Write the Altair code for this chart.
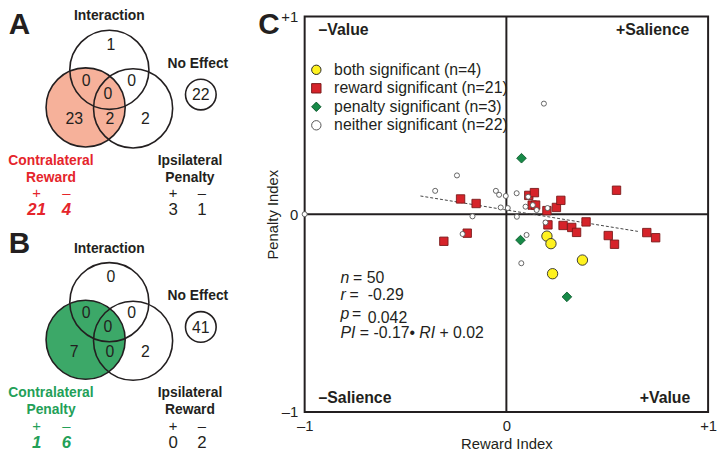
import altair as alt
import pandas as pd

# ------------------------------------------------------------------ data
# Venn regions: interaction only, contra∩interaction, interaction∩ipsi,
# all three, contra only, contra∩ipsi, ipsi only
venn_a_counts = [1, 0, 0, 0, 23, 2, 2]
venn_a_no_effect = [22]
venn_a_contra_label = ["Contralateral", "Reward"]
venn_a_ipsi_label = ["Ipsilateral", "Penalty"]
venn_a_contra_signs = [21, 4]
venn_a_ipsi_signs = [3, 1]

venn_b_counts = [0, 0, 0, 0, 7, 0, 2]
venn_b_no_effect = [41]
venn_b_contra_label = ["Contralateral", "Penalty"]
venn_b_ipsi_label = ["Ipsilateral", "Reward"]
venn_b_contra_signs = [1, 6]
venn_b_ipsi_signs = [0, 2]

categories = ["both significant (n=4)", "reward significant (n=21)",
              "penalty significant (n=3)", "neither significant (n=22)"]

both_ri = [0.201, 0.221, 0.377, 0.229]
both_pi = [-0.111, -0.149, -0.232, -0.301]

reward_ri = [-0.227, -0.150, -0.310, -0.194, 0.111, 0.139, 0.128, 0.145, 0.201, 0.248, 0.270,
             0.206, 0.281, 0.324, 0.348, 0.395, 0.505, 0.536, 0.546, 0.696, 0.740]
reward_pi = [0.077, 0.054, -0.137, -0.096, 0.095, 0.109, 0.046, 0.046, 0.018, 0.034, 0.070,
             -0.054, -0.057, -0.067, -0.092, -0.039, -0.108, -0.152, 0.121, -0.093, -0.119]

penalty_ri = [0.075, 0.070, 0.300]
penalty_pi = [0.283, -0.131, -0.418]

neither_ri = [-1.0, -0.353, -0.245, -0.168, -0.217, -0.052, -0.036, -0.003, -0.028, 0.007, 0.051,
              0.052, 0.095, 0.108, 0.131, 0.150, 0.204, 0.194, 0.100, 0.074, 0.186]
neither_pi = [0.0, 0.118, 0.196, -0.011, -0.100, 0.118, 0.098, 0.092, 0.034, 0.031, 0.106,
              -0.013, 0.038, 0.088, 0.046, 0.021, 0.031, -0.042, -0.105, -0.248, 0.559]

fit_ri = [-0.426, 0.652]
fit_pi = [0.092, -0.087]

axis_ticks = [-1, 0, 1]

# ------------------------------------------------------------------ styles
FONT = "Liberation Sans"
INK = "#231f20"
RED = "#e5252b"
SALMON = "#f6b19a"
GREEN = "#23a058"
GREEN_FILL = "#3ca868"
cat_fill = ["#fff21f", "#d6232a", "#178a48", "#ffffff"]
cat_stroke = ["#2a2a2a", "#7a1a1a", "#0c5a2c", "#555555"]
cat_shape = ["circle", "square", "diamond", "circle"]
cat_size = [110, 72, 95, 26]

one = pd.DataFrame({"k": [0]})

# page-pixel scales for the Venn panels (plot area sits at page x 308, y 14)
PX_X = alt.Scale(domain=[308, 716], nice=False, zero=False)
PX_Y = alt.Scale(domain=[14, 414], nice=False, zero=False, reverse=True)


def pxenc():
    return dict(x=alt.X("x:Q", scale=PX_X, axis=None),
                y=alt.Y("y:Q", scale=PX_Y, axis=None))


def circles(xs, ys, size, fill=None):
    df = pd.DataFrame({"x": xs, "y": ys})
    if fill:
        m = alt.Chart(df).mark_point(shape="circle", size=size, filled=True, fill=fill,
                                     strokeWidth=0, opacity=1)
    else:
        m = alt.Chart(df).mark_point(shape="circle", size=size, filled=False, stroke=INK,
                                     strokeWidth=1.6, opacity=1)
    return m.encode(**pxenc())


def texts(xs, ys, labels, size=16, weight="normal", style="normal", color=INK):
    df = pd.DataFrame({"x": xs, "y": ys, "t": [str(v) for v in labels]})
    return alt.Chart(df).mark_text(font=FONT, fontSize=size, fontWeight=weight,
                                   fontStyle=style, color=color, baseline="middle",
                                   align="center").encode(text="t:N", **pxenc())


# Venn layout (panel-local, in pixels)
C_TOP, C_LEFT, C_RIGHT = (110.5, 61), (86.5, 99), (134.5, 100)
BIG = 80 * 80
NOEFF = (203, 86)
SMALL = 31 * 31
REGION_XY = [(112, 36), (87, 72), (133, 72), (109, 86), (75, 111), (111, 111), (147, 111)]

panels = [
    dict(dy=7, letter="A", ly=23, counts=venn_a_counts, noeff=venn_a_no_effect,
         contra=venn_a_contra_label, ipsi=venn_a_ipsi_label,
         cs=venn_a_contra_signs, isg=venn_a_ipsi_signs, fill=SALMON, color=RED),
    dict(dy=242, letter="B", ly=244, counts=venn_b_counts, noeff=venn_b_no_effect,
         contra=venn_b_contra_label, ipsi=venn_b_ipsi_label,
         cs=venn_b_contra_signs, isg=venn_b_ipsi_signs, fill=GREEN_FILL, color=GREEN),
]

venn_layers = []
for p in panels:
    dy = p["dy"]
    venn_layers += [
        circles([C_LEFT[0]], [C_LEFT[1] + dy], BIG, fill=p["fill"]),
        circles([C_TOP[0], C_LEFT[0], C_RIGHT[0]], [C_TOP[1] + dy, C_LEFT[1] + dy, C_RIGHT[1] + dy], BIG),
        circles([NOEFF[0]], [NOEFF[1] + dy], SMALL),
        texts([xy[0] for xy in REGION_XY], [xy[1] + dy for xy in REGION_XY], p["counts"], size=16),
        texts([NOEFF[0]], [NOEFF[1] + dy + 1], p["noeff"], size=16),
        texts([110.5, 200, 192, 192], [7 + dy, 55 + dy, 153 + dy, 170 + dy],
              ["Interaction", "No Effect"] + p["ipsi"], size=14, weight="bold"),
        texts([51.5, 51.5], [153 + dy, 170 + dy], p["contra"], size=14, weight="bold", color=p["color"]),
        texts([37, 67], [186 + dy, 186 + dy], ["+", "–"], size=15, color=p["color"]),
        texts([175, 204], [186 + dy, 186 + dy], ["+", "–"], size=15),
        texts([37, 67], [203 + dy, 203 + dy], p["cs"], size=17, weight="bold", style="italic", color=p["color"]),
        texts([175, 204], [203 + dy, 203 + dy], p["isg"], size=17),
        texts([19.5], [p["ly"]], [p["letter"]], size=30, weight="bold"),
    ]
venn_layers.append(texts([272], [23], ["C"], size=30, weight="bold"))
venn_group = alt.layer(*venn_layers)

# ------------------------------------------------------------------ scatter
leg = alt.Legend(orient="none", legendX=3.8, legendY=46, title=None, labelFont=FONT,
                 labelFontSize=16, labelColor=INK, rowPadding=2.7, labelOffset=10,
                 labelLimit=400, padding=0, symbolStrokeWidth=1, symbolSize=90)

SX = alt.Scale(domain=[-1, 1], nice=False, zero=False)
SY = alt.Scale(domain=[-1, 1], nice=False, zero=False)
lab = "datum.value == 0 ? '0' : (datum.value > 0 ? '+1' : '–1')"
xaxis = alt.Axis(values=axis_ticks, labelExpr=lab, title="Reward Index", labelFlush=False,
                 labelPadding=7, titlePadding=3)
yaxis = alt.Axis(values=axis_ticks, labelExpr=lab, title="Penalty Index", labelFlush=False,
                 labelPadding=7, titlePadding=0)

# one layer per category (drawing order: reward, penalty, both, neither)
size_layers = []
for cat, s, xs, ys in [(categories[1], cat_size[1], reward_ri, reward_pi),
                       (categories[2], cat_size[2], penalty_ri, penalty_pi),
                       (categories[0], cat_size[0], both_ri, both_pi),
                       (categories[3], cat_size[3], neither_ri, neither_pi)]:
    df = pd.DataFrame({"ri": xs, "pi": ys, "cat": [cat] * len(xs)})
    size_layers.append(
        alt.Chart(df).mark_point(filled=True, strokeWidth=0.9, opacity=1, size=s).encode(
            x=alt.X("ri:Q", scale=SX, axis=xaxis),
            y=alt.Y("pi:Q", scale=SY, axis=yaxis),
            fill=alt.Fill("cat:N", scale=alt.Scale(domain=categories, range=cat_fill), legend=leg),
            stroke=alt.Stroke("cat:N", scale=alt.Scale(domain=categories, range=cat_stroke), legend=leg),
            shape=alt.Shape("cat:N", scale=alt.Scale(domain=categories, range=cat_shape), legend=leg),
        )
    )

zero_v = alt.Chart(one).mark_rule(color=INK, strokeWidth=2).encode(x=alt.datum(0))
zero_h = alt.Chart(one).mark_rule(color=INK, strokeWidth=2).encode(y=alt.datum(0))
fit = alt.Chart(pd.DataFrame({"ri": fit_ri, "pi": fit_pi})).mark_line(
    color="#444444", strokeWidth=1, strokeDash=[3, 2]).encode(
    x=alt.X("ri:Q", scale=SX, axis=xaxis), y=alt.Y("pi:Q", scale=SY, axis=yaxis))


def note(text, x, y, size=16, weight="normal", style="normal", align="left"):
    return alt.Chart(one).mark_text(text=text, font=FONT, fontSize=size, fontWeight=weight,
                                    fontStyle=style, align=align, baseline="middle",
                                    color=INK).encode(x=alt.value(x), y=alt.value(y))


notes = [
    note("–Value", 14, 14, weight="bold"),
    note("+Salience", 389, 14, weight="bold", align="right"),
    note("–Salience", 14, 386, weight="bold"),
    note("+Value", 390, 386, weight="bold", align="right"),
    note("n", 36.3, 264.8, style="italic"), note("= 50", 49.0, 264.8),
    note("r", 36.3, 281.8, style="italic"), note("=", 45.3, 281.8), note("-0.29", 63.7, 281.8),
    note("p", 36.3, 300.7, style="italic"), note("=", 48.0, 300.7), note("0.042", 63.7, 304.7),
    note("PI", 36.3, 320.3, style="italic"), note("= -0.17•", 55.8, 320.3),
    note("RI", 115.9, 320.3, style="italic"), note("+ 0.02", 136.3, 320.3),
]

scatter_group = alt.layer(zero_v, zero_h, fit, *size_layers, *notes)

chart = alt.layer(venn_group, scatter_group).resolve_scale(
    x="independent", y="independent"
).properties(
    width=408, height=400,
    padding={"left": 300, "top": 6, "right": 9, "bottom": 39},
    autosize=alt.AutoSizeParams(type="none"),
).configure_view(stroke=INK, strokeWidth=2).configure_axis(
    domain=False, ticks=False, grid=False, labelFont=FONT, labelFontSize=15, labelColor=INK,
    titleFont=FONT, titleFontSize=15, titleFontWeight="normal", titleColor=INK,
).configure_legend(labelFont=FONT, labelFontSize=16, labelColor=INK).configure_text(font=FONT)

chart.save("out.html", embed_options={"renderer": "svg", "actions": False})
